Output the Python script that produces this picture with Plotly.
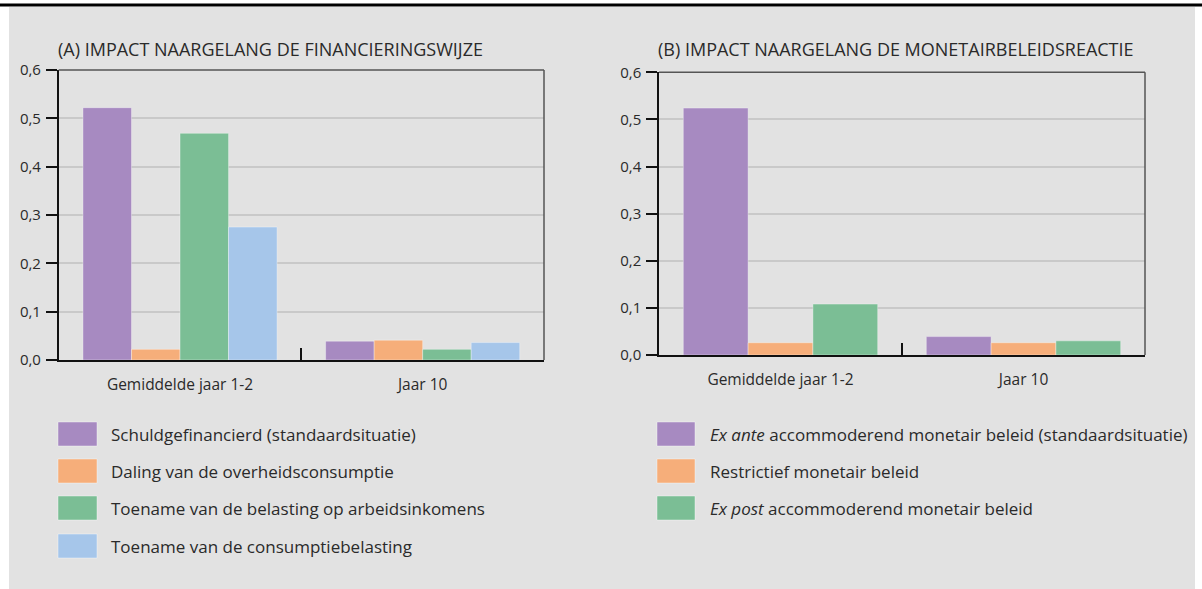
import plotly.graph_objects as go

W, H = 1202, 589

categories = ["Gemiddelde jaar 1-2", "Jaar 10"]

title_a = "(A) IMPACT NAARGELANG DE FINANCIERINGSWIJZE"
title_b = "(B) IMPACT NAARGELANG DE MONETAIRBELEIDSREACTIE"

names_a = [
    "Schuldgefinancierd (standaardsituatie)",
    "Daling van de overheidsconsumptie",
    "Toename van de belasting op arbeidsinkomens",
    "Toename van de consumptiebelasting",
]
debt_financed = [0.522, 0.039]
gov_consumption_cut = [0.022, 0.041]
labour_tax_rise = [0.469, 0.022]
consumption_tax_rise = [0.275, 0.036]

names_b = [
    "<i>Ex ante</i> accommoderend monetair beleid (standaardsituatie)",
    "Restrictief monetair beleid",
    "<i>Ex post</i> accommoderend monetair beleid",
]
ex_ante = [0.524, 0.039]
restrictive = [0.026, 0.026]
ex_post = [0.108, 0.030]

colors = ["#A78AC1", "#F6AE7A", "#7BBE95", "#A6C6EA"]
y_ticks = [0.0, 0.1, 0.2, 0.3, 0.4, 0.5, 0.6]

series_a = [debt_financed, gov_consumption_cut, labour_tax_rise, consumption_tax_rise]
series_b = [ex_ante, restrictive, ex_post]

FONT = "Open Sans"
TXT = "#2a2a2a"

fig = go.Figure()
for name, vals, col in zip(names_a, series_a, colors):
    fig.add_trace(go.Bar(x=categories, y=vals, name=name, marker_color=col,
                         marker_line=dict(color="rgba(255,255,255,0.35)", width=1),
                         xaxis="x", yaxis="y", showlegend=False))
for name, vals, col in zip(names_b, series_b, colors):
    fig.add_trace(go.Bar(x=categories, y=vals, name=name, marker_color=col,
                         marker_line=dict(color="rgba(255,255,255,0.35)", width=1),
                         xaxis="x2", yaxis="y2", showlegend=False))

def px(x):
    return x / W

def py(y):
    return 1 - y / H

ax_a = dict(x0=58.7, x1=544, y0=70, y1=360)
ax_b = dict(x0=659, x1=1145, y0=72.3, y1=355)

xcommon = dict(type="category", showgrid=False, showline=True, linecolor="#111", linewidth=1.5,
               ticks="inside", tickson="boundaries", ticklen=12, tickcolor="#111", tickwidth=1.5,
               automargin=False,
               tickfont=dict(family=FONT, size=15.5, color=TXT), ticklabelstandoff=10)
ycommon = dict(range=[0, 0.6], tickvals=y_ticks, tickformat=".1f", showgrid=True,
               gridcolor="#c9c9c9", gridwidth=1.5, showline=True, linecolor="#111", linewidth=1.5,
               ticks="outside", ticklen=11, tickcolor="#111", tickwidth=1.5, zeroline=False,
               ticklabelstandoff=2, automargin=False,
               tickfont=dict(family=FONT, size=15, color=TXT))

fig.update_layout(
    template="none",
    width=W, height=H,
    margin=dict(l=0, r=0, t=0, b=0, pad=0, autoexpand=False),
    paper_bgcolor="white",
    plot_bgcolor="white",
    separators=",.",
    barmode="group",
    bargap=0.2,
    bargroupgap=0,
    showlegend=False,
    xaxis=dict(domain=[px(ax_a["x0"]), px(ax_a["x1"])], anchor="y", **xcommon),
    yaxis=dict(domain=[py(ax_a["y1"]), py(ax_a["y0"])], anchor="x", **ycommon),
    xaxis2=dict(domain=[px(ax_b["x0"]), px(ax_b["x1"])], anchor="y2", **xcommon),
    yaxis2=dict(domain=[py(ax_b["y1"]), py(ax_b["y0"])], anchor="x2", **ycommon),
)

shapes = []
shapes.append(dict(type="rect", xref="paper", yref="paper", x0=px(9), x1=px(1195), y0=0, y1=py(7),
                   fillcolor="#E2E2E2", line=dict(width=0), layer="below"))
shapes.append(dict(type="rect", xref="paper", yref="paper", x0=0, x1=1, y0=py(6.5), y1=py(3.5),
                   fillcolor="#000", line=dict(width=0), layer="below"))
for xd, yd in (("x domain", "y domain"), ("x2 domain", "y2 domain")):
    shapes.append(dict(type="line", xref=xd, yref=yd, x0=0, x1=1, y0=1, y1=1,
                       line=dict(color="#555", width=1.5)))
    shapes.append(dict(type="line", xref=xd, yref=yd, x0=1, x1=1, y0=0, y1=1,
                       line=dict(color="#555", width=1.5)))

annotations = [
    dict(text=title_a, xref="paper", yref="paper", x=px(56), y=py(49), xanchor="left", yanchor="middle",
         showarrow=False, font=dict(family=FONT, size=18, color=TXT)),
    dict(text=title_b, xref="paper", yref="paper", x=px(656), y=py(49), xanchor="left", yanchor="middle",
         showarrow=False, font=dict(family=FONT, size=18, color=TXT)),
]

row_y = [434, 471, 508, 546]
for names, sx0, sx1, tx in ((names_a, 58, 97, 109), (names_b, 657, 695, 708)):
    for i, name in enumerate(names):
        yc = row_y[i]
        shapes.append(dict(type="rect", xref="paper", yref="paper", x0=px(sx0), x1=px(sx1),
                           y0=py(yc + 12), y1=py(yc - 12), fillcolor=colors[i],
                           line=dict(color="rgba(255,255,255,0.4)", width=1)))
        annotations.append(dict(text=name, xref="paper", yref="paper", x=px(tx), y=py(yc),
                                xanchor="left", yanchor="middle", showarrow=False,
                                font=dict(family=FONT, size=17, color=TXT)))

fig.update_layout(shapes=shapes, annotations=annotations)

post = (
    "document.documentElement.style.margin='0';"
    "document.body.style.margin='0';"
    "document.body.style.overflow='hidden';"
    "var d=document.getElementById('{plot_id}');"
    "d.style.position='fixed';d.style.left='0px';d.style.top='0px';"
)
fig.write_html("out.html", config={"displayModeBar": False}, post_script=post)
